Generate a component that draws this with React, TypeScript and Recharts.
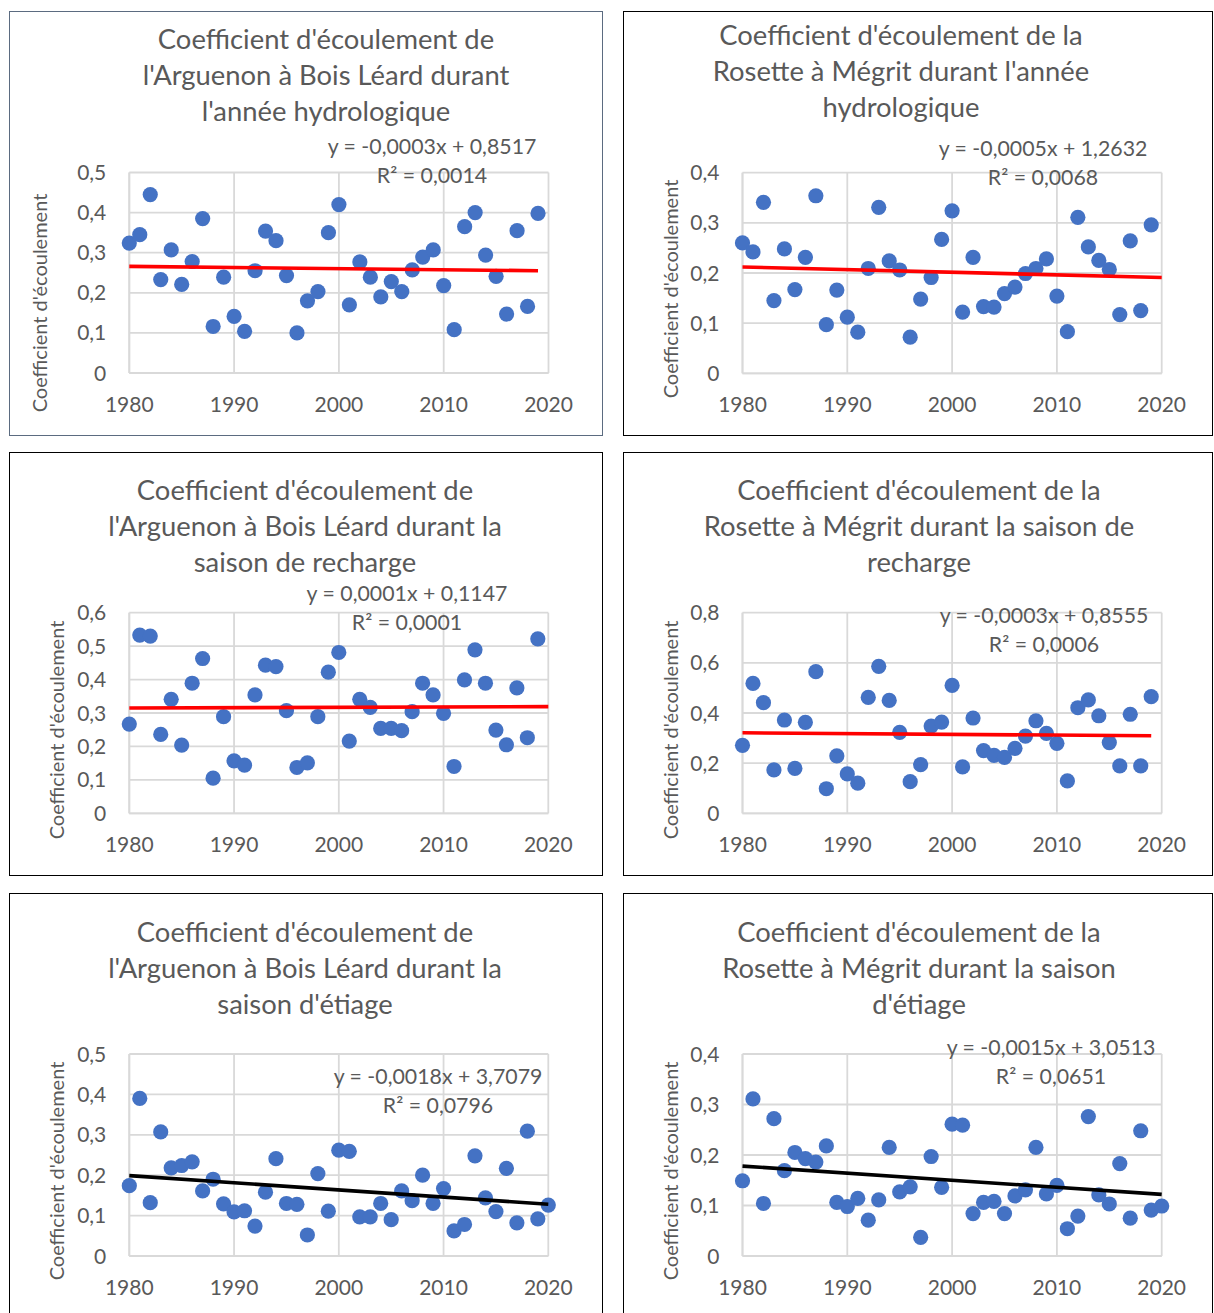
import React from "react";
import { ScatterChart, Scatter, XAxis, YAxis, CartesianGrid } from "recharts";

// ---------- DATA ----------
const YEARS = [
  1980, 1981, 1982, 1983, 1984, 1985, 1986, 1987, 1988, 1989,
  1990, 1991, 1992, 1993, 1994, 1995, 1996, 1997, 1998, 1999,
  2000, 2001, 2002, 2003, 2004, 2005, 2006, 2007, 2008, 2009,
  2010, 2011, 2012, 2013, 2014, 2015, 2016, 2017, 2018, 2019, 2020,
];

const X_TICKS = [1980, 1990, 2000, 2010, 2020];

const ARG_HYDRO = [
  0.324, 0.345, 0.445, 0.233, 0.307, 0.221, 0.278, 0.385, 0.116, 0.239,
  0.141, 0.104, 0.255, 0.354, 0.330, 0.243, 0.100, 0.180, 0.203, 0.350,
  0.420, 0.170, 0.277, 0.239, 0.190, 0.228, 0.203, 0.257, 0.289, 0.307,
  0.218, 0.108, 0.365, 0.400, 0.294, 0.241, 0.147, 0.355, 0.166, 0.398,
];
const ROS_HYDRO = [
  0.260, 0.242, 0.341, 0.145, 0.248, 0.167, 0.231, 0.354, 0.097, 0.166,
  0.112, 0.082, 0.209, 0.331, 0.224, 0.206, 0.072, 0.148, 0.191, 0.267,
  0.324, 0.122, 0.231, 0.133, 0.132, 0.159, 0.172, 0.199, 0.209, 0.228,
  0.154, 0.083, 0.311, 0.252, 0.225, 0.207, 0.117, 0.264, 0.125, 0.296,
];
const ARG_RECH = [
  0.267, 0.533, 0.530, 0.236, 0.341, 0.204, 0.389, 0.463, 0.105, 0.289,
  0.157, 0.144, 0.354, 0.443, 0.439, 0.307, 0.137, 0.151, 0.289, 0.422,
  0.481, 0.216, 0.341, 0.317, 0.254, 0.254, 0.247, 0.304, 0.389, 0.354,
  0.299, 0.140, 0.399, 0.489, 0.389, 0.249, 0.205, 0.375, 0.226, 0.522,
];
const ROS_RECH = [
  0.271, 0.518, 0.441, 0.173, 0.372, 0.179, 0.363, 0.565, 0.098, 0.229,
  0.157, 0.120, 0.462, 0.586, 0.450, 0.323, 0.126, 0.194, 0.348, 0.364,
  0.510, 0.185, 0.380, 0.250, 0.231, 0.223, 0.259, 0.308, 0.369, 0.319,
  0.279, 0.129, 0.421, 0.452, 0.389, 0.282, 0.189, 0.395, 0.189, 0.465,
];
const ARG_ETIAGE = [
  0.174, 0.390, 0.132, 0.307, 0.218, 0.224, 0.233, 0.161, 0.190, 0.129,
  0.109, 0.112, 0.074, 0.158, 0.241, 0.130, 0.128, 0.052, 0.204, 0.111,
  0.262, 0.259, 0.097, 0.097, 0.130, 0.090, 0.161, 0.137, 0.200, 0.130,
  0.167, 0.062, 0.078, 0.248, 0.144, 0.110, 0.217, 0.082, 0.309, 0.092, 0.126,
];
const ROS_ETIAGE = [
  0.149, 0.311, 0.104, 0.272, 0.169, 0.205, 0.193, 0.186, 0.218, 0.106,
  0.098, 0.114, 0.071, 0.111, 0.215, 0.127, 0.137, 0.037, 0.197, 0.136,
  0.261, 0.259, 0.084, 0.106, 0.108, 0.084, 0.119, 0.131, 0.215, 0.123,
  0.140, 0.054, 0.079, 0.276, 0.121, 0.103, 0.183, 0.075, 0.248, 0.091, 0.099,
];

// trend line end points
const TREND_1 = [{ x: 1980, y: 0.266 }, { x: 2019, y: 0.255 }];
const TREND_2 = [{ x: 1980, y: 0.212 }, { x: 2020, y: 0.191 }];
const TREND_3 = [{ x: 1980, y: 0.315 }, { x: 2020, y: 0.319 }];
const TREND_4 = [{ x: 1980, y: 0.321 }, { x: 2019, y: 0.309 }];
const TREND_5 = [{ x: 1980, y: 0.199 }, { x: 2020, y: 0.128 }];
const TREND_6 = [{ x: 1980, y: 0.178 }, { x: 2020, y: 0.122 }];

const Y_TICKS_05 = [0, 0.1, 0.2, 0.3, 0.4, 0.5];
const Y_TICKS_04 = [0, 0.1, 0.2, 0.3, 0.4];
const Y_TICKS_06 = [0, 0.1, 0.2, 0.3, 0.4, 0.5, 0.6];
const Y_TICKS_08 = [0, 0.2, 0.4, 0.6, 0.8];

const TITLE_1 = ["Coefficient d'écoulement de", "l'Arguenon à Bois Léard durant", "l'année hydrologique"];
const TITLE_2 = ["Coefficient d'écoulement de la", "Rosette à Mégrit durant l'année", "hydrologique"];
const TITLE_3 = ["Coefficient d'écoulement de", "l'Arguenon à Bois Léard durant la", "saison de recharge"];
const TITLE_4 = ["Coefficient d'écoulement de la", "Rosette à Mégrit durant la saison de", "recharge"];
const TITLE_5 = ["Coefficient d'écoulement de", "l'Arguenon à Bois Léard durant la", "saison d'étiage"];
const TITLE_6 = ["Coefficient d'écoulement de la", "Rosette à Mégrit durant la saison", "d'étiage"];

const EQ_1 = ["y = -0,0003x + 0,8517", "R² = 0,0014"];
const EQ_2 = ["y = -0,0005x + 1,2632", "R² = 0,0068"];
const EQ_3 = ["y = 0,0001x + 0,1147", "R² = 0,0001"];
const EQ_4 = ["y = -0,0003x + 0,8555", "R² = 0,0006"];
const EQ_5 = ["y = -0,0018x + 3,7079", "R² = 0,0796"];
const EQ_6 = ["y = -0,0015x + 3,0513", "R² = 0,0651"];

const Y_LABEL = "Coefficient d'écoulement";

// ---------- STYLE / LAYOUT ----------
const FONT = "Lato, 'Open Sans', sans-serif";
const TEXT = "#595959";
const GRID = "#d9d9d9";
const DOT = "#4472C4";

const PANELS = [
  {
    values: ARG_HYDRO, trend: TREND_1, trendColor: "#FF0000", yMax: 0.5, yTicks: Y_TICKS_05,
    title: TITLE_1, eq: EQ_1, border: "#5b6b80",
    box: { l: 9, t: 11, r: 603, b: 436 }, plot: { l: 129.3, t: 172.5, r: 548.5, b: 373 },
    titleX: 326, titleY: 39, eqX: 432, eqY: 146, labX: 40, labY: 303,
  },
  {
    values: ROS_HYDRO, trend: TREND_2, trendColor: "#FF0000", yMax: 0.4, yTicks: Y_TICKS_04,
    title: TITLE_2, eq: EQ_2, border: "#000000",
    box: { l: 623, t: 11, r: 1213, b: 436 }, plot: { l: 742.5, t: 172.7, r: 1161.7, b: 373.3 },
    titleX: 901, titleY: 35, eqX: 1043, eqY: 148, labX: 671, labY: 289,
  },
  {
    values: ARG_RECH, trend: TREND_3, trendColor: "#FF0000", yMax: 0.6, yTicks: Y_TICKS_06,
    title: TITLE_3, eq: EQ_3, border: "#000000",
    box: { l: 9, t: 452, r: 603, b: 876 }, plot: { l: 129.3, t: 612.7, r: 548.3, b: 813.3 },
    titleX: 305, titleY: 490, eqX: 407, eqY: 593, labX: 57, labY: 730,
  },
  {
    values: ROS_RECH, trend: TREND_4, trendColor: "#FF0000", yMax: 0.8, yTicks: Y_TICKS_08,
    title: TITLE_4, eq: EQ_4, border: "#000000",
    box: { l: 623, t: 452, r: 1213, b: 876 }, plot: { l: 742.5, t: 612.7, r: 1161.7, b: 813.3 },
    titleX: 919, titleY: 490, eqX: 1044, eqY: 615, labX: 671, labY: 730,
  },
  {
    values: ARG_ETIAGE, trend: TREND_5, trendColor: "#000000", yMax: 0.5, yTicks: Y_TICKS_05,
    title: TITLE_5, eq: EQ_5, border: "#000000",
    box: { l: 9, t: 893, r: 603, b: 1322 }, plot: { l: 129.3, t: 1054, r: 548.3, b: 1256 },
    titleX: 305, titleY: 932, eqX: 438, eqY: 1076, labX: 57, labY: 1171,
  },
  {
    values: ROS_ETIAGE, trend: TREND_6, trendColor: "#000000", yMax: 0.4, yTicks: Y_TICKS_04,
    title: TITLE_6, eq: EQ_6, border: "#000000",
    box: { l: 623, t: 893, r: 1213, b: 1322 }, plot: { l: 742.5, t: 1054, r: 1161.7, b: 1256 },
    titleX: 919, titleY: 932, eqX: 1051, eqY: 1047, labX: 671, labY: 1171,
  },
];

const TICK_FS = 21;
const TITLE_FS = 27.4;
const EQ_FS = 21.3;
const LAB_FS = 20;

const fmtY = (v: number) => (v === 0 ? "0" : v.toFixed(1).replace(".", ","));

const XTick = (props: any) => {
  const { x, y, payload } = props;
  return (
    <text x={x} y={y + 38.5} textAnchor="middle" fontSize={TICK_FS} fill={TEXT} fontFamily={FONT}>
      {payload.value}
    </text>
  );
};

const YTick = (props: any) => {
  const { x, y, payload } = props;
  return (
    <text x={x - 23} y={y + 7.5} textAnchor="end" fontSize={TICK_FS} fill={TEXT} fontFamily={FONT}>
      {fmtY(payload.value)}
    </text>
  );
};

const DotShape = (props: any) => <circle cx={props.cx} cy={props.cy} r={7.6} fill={DOT} />;
const NoShape = () => <g />;

function Panel({ p }: { p: any }) {
  const w = p.box.r - p.box.l;
  const h = p.box.b - p.box.t;
  const yAxisW = p.plot.l - p.box.l;
  const xAxisH = p.box.b - p.plot.b;
  const points = p.values.map((v: number, i: number) => ({ x: YEARS[i], y: v }));
  return (
    <div
      style={{
        position: "absolute",
        left: p.box.l,
        top: p.box.t,
        width: w,
        height: h,
      }}
    >
      <ScatterChart
        width={w}
        height={h}
        margin={{ top: p.plot.t - p.box.t, right: p.box.r - p.plot.r, bottom: 0, left: 0 }}
        style={{ overflow: "visible" }}
      >
        <CartesianGrid stroke={GRID} strokeWidth={1.8} />
        <XAxis
          type="number"
          dataKey="x"
          domain={[1980, 2020]}
          ticks={X_TICKS}
          interval={0}
          height={xAxisH}
          axisLine={{ stroke: GRID, strokeWidth: 1.8 }}
          tickLine={false}
          tickSize={0}
          tickMargin={0}
          tick={XTick}
        />
        <YAxis
          type="number"
          dataKey="y"
          domain={[0, p.yMax]}
          ticks={p.yTicks}
          interval={0}
          width={yAxisW}
          axisLine={{ stroke: GRID, strokeWidth: 1.8 }}
          tickLine={false}
          tickSize={0}
          tickMargin={0}
          tick={YTick}
        />
        <Scatter data={points} shape={DotShape} isAnimationActive={false} />
        <Scatter
          data={p.trend}
          shape={NoShape}
          line={{ stroke: p.trendColor, strokeWidth: 3.6 }}
          isAnimationActive={false}
        />
      </ScatterChart>
      <div
        style={{
          position: "absolute",
          left: 0,
          top: 0,
          width: w,
          height: h,
          boxSizing: "border-box",
          border: `1.6px solid ${p.border}`,
          pointerEvents: "none",
        }}
      />
    </div>
  );
}

function Texts() {
  return (
    <svg
      width={1214}
      height={1313}
      style={{ position: "absolute", left: 0, top: 0, pointerEvents: "none" }}
      fontFamily={FONT}
    >
      {PANELS.map((p, k) => (
        <g key={k} fill={TEXT}>
          {p.title.map((line: string, i: number) => (
            <text
              key={i}
              x={p.titleX}
              y={p.titleY + i * 36 + 9.8}
              textAnchor="middle"
              fontSize={TITLE_FS}
            >
              {line}
            </text>
          ))}
          {p.eq.map((line: string, i: number) => (
            <text key={"e" + i} x={p.eqX} y={p.eqY + i * 29 + 7.7} textAnchor="middle" fontSize={EQ_FS}>
              {line}
            </text>
          ))}
          <g transform={`translate(${p.labX},${p.labY}) rotate(-90)`}>
            <text x={0} y={LAB_FS * 0.36} textAnchor="middle" fontSize={LAB_FS}>
              {Y_LABEL}
            </text>
          </g>
        </g>
      ))}
    </svg>
  );
}

export default function App() {
  return (
    <div
      style={{
        position: "absolute",
        left: 0,
        top: 0,
        width: 1214,
        height: 1313,
        overflow: "hidden",
        background: "#ffffff",
        fontFamily: FONT,
      }}
    >
      {PANELS.map((p, k) => (
        <Panel key={k} p={p} />
      ))}
      <Texts />
    </div>
  );
}
